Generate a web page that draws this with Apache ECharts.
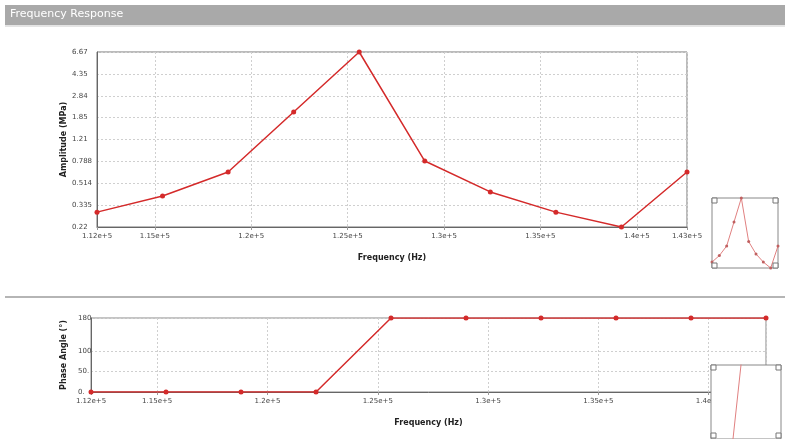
<!DOCTYPE html>
<html>
<head>
<meta charset="utf-8">
<script src="https://cdn.jsdelivr.net/npm/echarts@6/dist/echarts.min.js"></script>
<style>
html,body{margin:0;padding:0;background:#fff;}
#c{width:785px;height:439px;}
</style>
</head>
<body>
<div id="c"></div>
<script>
// ---- data ----
const frequencies = [112000, 115400, 118800, 122200, 125600, 129000, 132400, 135800, 139200, 142600];
const amplitudes = [0.294, 0.403, 0.643, 2.07, 6.67, 0.796, 0.436, 0.294, 0.22, 0.643];
const phases = [0, 0, 0, 0, 180, 180, 180, 180, 180, 180];
const ampTickLabels = ['0.22', '0.335', '0.514', '0.788', '1.21', '1.85', '2.84', '4.35', '6.67'];
const phaseTickValues = [0, 50, 100, 180];
const phaseTickLabels = ['0.', '50.', '100', '180'];
const freqMin = 112000, freqMax = 142600;

// amplitude axis is logarithmic with evenly spaced ticks from 0.22 to 6.67
const ampLo = 0.22, ampHi = 6.67, ampSteps = ampTickLabels.length - 1;
function ampToAxis(v){ return Math.log(v/ampLo)/Math.log(ampHi/ampLo)*ampSteps; }

const ampData = frequencies.map((f,i)=>[f, ampToAxis(amplitudes[i])]);
const phaseData = frequencies.map((f,i)=>[f, phases[i]]);

const RED = '#d42a2a';
const FONT = 'DejaVu Sans';
function fmtFreq(v){ return Number(v).toExponential(2).replace(/\.?0+e/, 'e'); }

const chart = echarts.init(document.getElementById('c'), null, {renderer:'canvas'});

const labelStyle = {fontFamily: FONT, fontSize: 7, color: '#444'};
const nameStyle = {fontFamily: FONT, fontSize: 8, fontWeight: 'bold', color: '#222'};
const dashed = {show:true, lineStyle:{color:'#cfcfcf', type:[2,2], width:1}};

function cornerMarks(x, y, w, h){
  const s = 5, out = [];
  [[x,y],[x+w-s,y],[x,y+h-s],[x+w-s,y+h-s]].forEach(p=>{
    out.push({type:'rect', z:50, shape:{x:p[0], y:p[1], width:s, height:s},
      style:{fill:'#fff', stroke:'#777', lineWidth:1}});
  });
  return out;
}

const option = {
  animation: false,
  backgroundColor: '#fff',
  graphic: [
    {type:'rect', shape:{x:5, y:5, width:780, height:20}, style:{fill:'#a9a9a9'}},
    {type:'rect', shape:{x:5, y:25, width:780, height:2}, style:{fill:'#e4e4e4'}},
    {type:'text', x:10, y:9, style:{text:'Frequency Response', fill:'#fff', font:'11px "DejaVu Sans"'}},
    {type:'rect', shape:{x:5, y:296, width:780, height:2}, style:{fill:'#b5b5b5'}},
  ].concat(cornerMarks(712,198,66,70)).concat(cornerMarks(711,365,70,73)),
  grid: [
    {left:97, top:52, width:590, height:175, show:true, borderColor:'#777', borderWidth:1, backgroundColor:'#fff'},
    {left:91, top:318, width:675, height:74, show:true, borderColor:'#888', borderWidth:1, backgroundColor:'#fff'},
    {left:712, top:198, width:66, height:70, show:true, borderColor:'#888', borderWidth:1, backgroundColor:'#fff', z:5},
    {left:711, top:365, width:70, height:74, show:true, borderColor:'#888', borderWidth:1, backgroundColor:'#fff', z:5}
  ],
  xAxis: [
    {gridIndex:0, type:'value', min:freqMin, max:freqMax, minInterval:5000, maxInterval:5000,
     name:'Frequency (Hz)', nameLocation:'middle', nameGap:27, nameTextStyle:nameStyle,
     axisLine:{lineStyle:{color:'#666'}}, axisTick:{show:true, length:3, lineStyle:{color:'#999'}},
     axisLabel:Object.assign({formatter:fmtFreq, margin:6}, labelStyle), splitLine:dashed},
    {gridIndex:1, type:'value', min:freqMin, max:freqMax, minInterval:5000, maxInterval:5000,
     name:'Frequency (Hz)', nameLocation:'middle', nameGap:27, nameTextStyle:nameStyle,
     axisLine:{lineStyle:{color:'#666'}}, axisTick:{show:true, length:3, lineStyle:{color:'#999'}},
     axisLabel:Object.assign({formatter:fmtFreq, margin:6}, labelStyle), splitLine:dashed},
    {gridIndex:2, type:'value', min:freqMin, max:freqMax, show:false},
    {gridIndex:3, type:'value', min:119745, max:132967, show:false}
  ],
  yAxis: [
    {gridIndex:0, type:'value', min:0, max:ampSteps, interval:1,
     name:'Amplitude (MPa)', nameLocation:'middle', nameGap:29, nameMoveOverlap:false, nameRotate:90, nameTextStyle:nameStyle,
     axisLine:{show:true, lineStyle:{color:'#666'}}, axisTick:{show:false},
     axisLabel:Object.assign({formatter:v=>ampTickLabels[Math.round(v)], margin:25, align:'left'}, labelStyle), splitLine:dashed},
    {gridIndex:1, type:'value', min:0, max:180, interval:50,
     name:'Phase Angle (°)', nameLocation:'middle', nameGap:23, nameMoveOverlap:false, nameRotate:90, nameTextStyle:nameStyle,
     axisLine:{show:true, lineStyle:{color:'#666'}}, axisTick:{show:false, customValues:phaseTickValues},
     axisLabel:Object.assign({customValues:phaseTickValues, formatter:v=>{const i=phaseTickValues.indexOf(v); return i<0?'':phaseTickLabels[i];}, margin:13, align:'left'}, labelStyle),
     splitLine:dashed},
    {gridIndex:2, type:'value', min:0, max:ampSteps, show:false},
    {gridIndex:3, type:'value', min:90, max:170, show:false}
  ],
  series: [
    {type:'line', xAxisIndex:0, yAxisIndex:0, data:ampData, symbol:'circle', symbolSize:5,
     lineStyle:{color:RED, width:1.5}, itemStyle:{color:RED}},
    {type:'line', xAxisIndex:1, yAxisIndex:1, data:phaseData, symbol:'circle', symbolSize:5,
     lineStyle:{color:RED, width:1.5}, itemStyle:{color:RED}},
    {type:'line', xAxisIndex:2, yAxisIndex:2, data:ampData, symbol:'circle', symbolSize:3, z:10,
     lineStyle:{color:'#e08080', width:1}, itemStyle:{color:'#c06060'}},
    {type:'line', xAxisIndex:3, yAxisIndex:3, data:phaseData, symbol:'none', z:10, clip:true,
     lineStyle:{color:'#e08080', width:1}}
  ]
};
chart.setOption(option);
</script>
</body>
</html>
